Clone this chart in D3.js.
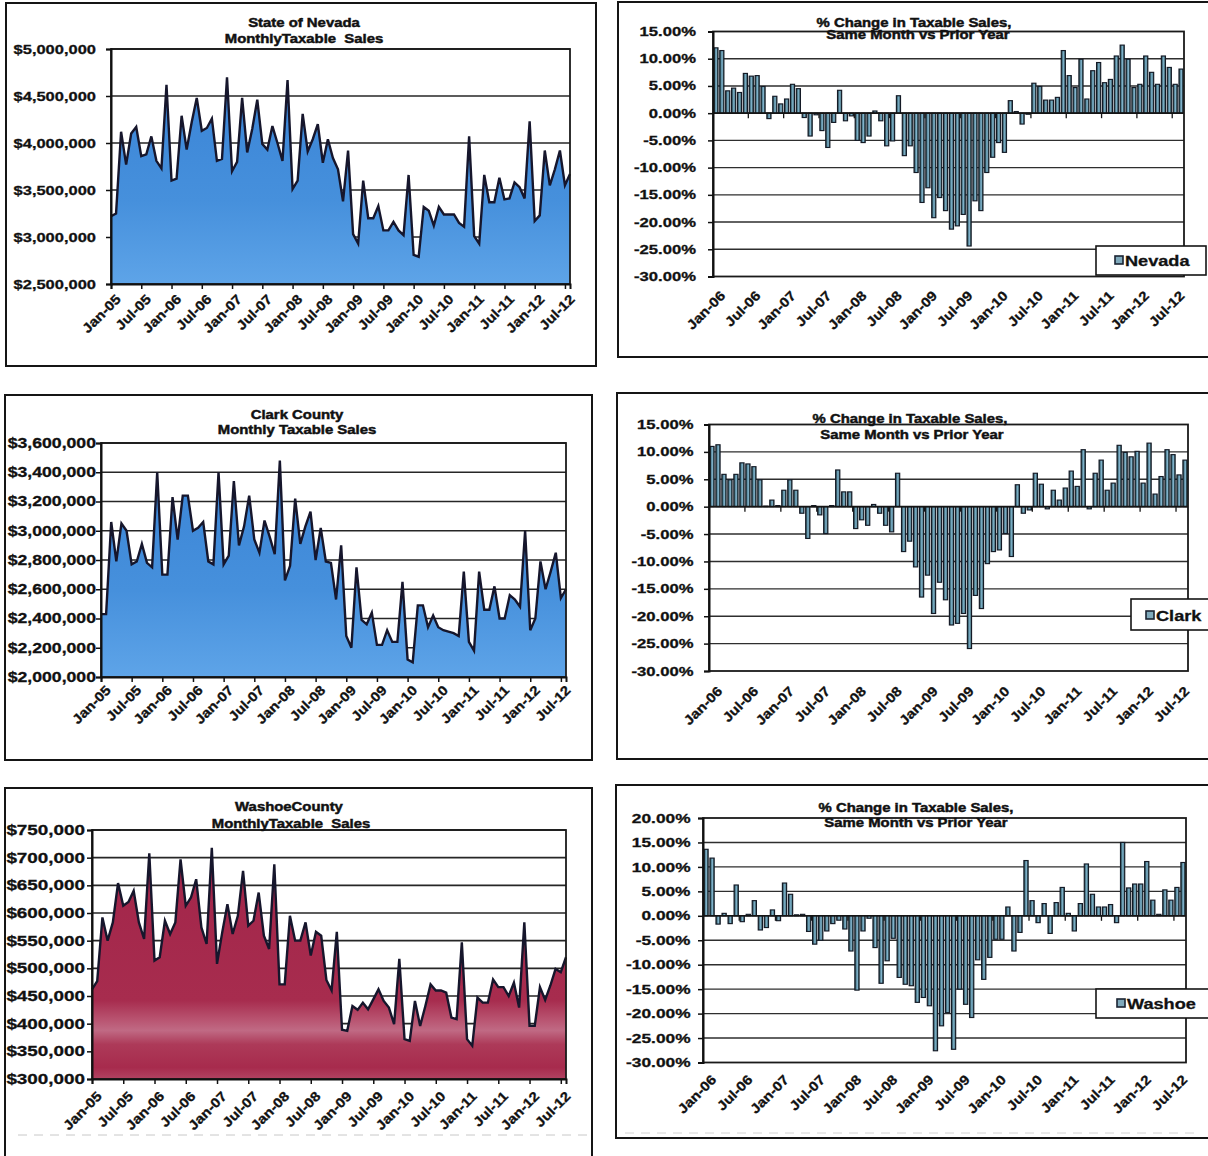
<!DOCTYPE html>
<html><head><meta charset="utf-8">
<script src="https://cdn.jsdelivr.net/npm/d3@7"></script>
<style>
html,body{margin:0;padding:0;background:#fff;}
svg{display:block;}
text{font-family:"Liberation Sans",Arial,sans-serif;font-weight:bold;fill:#111;stroke:#111;stroke-width:0.3px;}
</style></head><body>
<svg id="c" width="1208" height="1156"></svg>
<script>
// ---------------- DATA ----------------
const areaMonths = d3.timeMonths(new Date(2005,0,1), new Date(2012,8,1)); // Jan-05 .. Aug-12
const barMonths  = d3.timeMonths(new Date(2006,0,1), new Date(2012,8,1)); // Jan-06 .. Aug-12

const areaTickLabels = ["Jan-05","Jul-05","Jan-06","Jul-06","Jan-07","Jul-07","Jan-08","Jul-08",
  "Jan-09","Jul-09","Jan-10","Jul-10","Jan-11","Jul-11","Jan-12","Jul-12"];
const barTickLabels = ["Jan-06","Jul-06","Jan-07","Jul-07","Jan-08","Jul-08","Jan-09","Jul-09",
  "Jan-10","Jul-10","Jan-11","Jul-11","Jan-12","Jul-12"];

const nevadaSales = [3220000,3250000,4120000,3770000,4100000,4170000,3860000,3880000,4070000,3810000,3730000,4620000,
3600000,3620000,4290000,3930000,4220000,4480000,4130000,4160000,4260000,3810000,3830000,4700000,
3700000,3800000,4480000,3900000,4150000,4460000,3990000,3930000,4180000,4000000,3810000,4670000,
3510000,3600000,4310000,3910000,4040000,4200000,3790000,4040000,3840000,3720000,3380000,3920000,
3030000,2930000,3600000,3200000,3200000,3330000,3070000,3070000,3160000,3070000,3020000,3660000,
2810000,2790000,3320000,3280000,3120000,3320000,3240000,3240000,3240000,3150000,3110000,4070000,
3010000,2930000,3660000,3370000,3370000,3630000,3400000,3410000,3580000,3530000,3410000,4230000,
3170000,3230000,3920000,3550000,3720000,3920000,3550000,3670000];

const clarkSales = [2430000,2430000,3060000,2790000,3050000,3000000,2770000,2790000,2910000,2780000,2750000,3400000,
2700000,2700000,3230000,2940000,3240000,3240000,3000000,3020000,3060000,2790000,2770000,3400000,
2770000,2830000,3340000,2900000,3030000,3240000,2940000,2850000,3070000,2960000,2840000,3480000,
2660000,2760000,3220000,2910000,3030000,3130000,2800000,3020000,2790000,2780000,2530000,2900000,
2280000,2200000,2750000,2390000,2360000,2440000,2220000,2220000,2320000,2240000,2240000,2650000,
2120000,2100000,2490000,2490000,2340000,2420000,2340000,2320000,2310000,2300000,2280000,2720000,
2240000,2180000,2720000,2460000,2460000,2620000,2400000,2400000,2560000,2530000,2480000,3000000,
2320000,2400000,2790000,2600000,2720000,2850000,2540000,2600000];

const washoeSales = [462000,477000,592000,550000,583000,654000,613000,620000,640000,583000,553000,708000,
514000,520000,586000,562000,583000,697000,613000,628000,661000,574000,544000,718000,
508000,565000,616000,562000,595000,676000,577000,586000,637000,559000,535000,688000,
471000,471000,595000,550000,550000,583000,523000,566000,559000,479000,460000,566000,
389000,387000,432000,425000,438000,426000,444000,462000,441000,429000,399000,517000,
372000,369000,441000,396000,432000,471000,460000,460000,456000,411000,408000,547000,
372000,360000,447000,438000,438000,480000,466000,466000,450000,474000,429000,583000,
396000,396000,466000,443000,469000,499000,493000,520000];

const nevadaChange = [12.0,11.5,4.1,4.6,3.8,7.3,6.8,6.9,4.9,-1.0,3.1,1.7,2.6,5.3,4.5,
-0.8,-4.2,-0.3,-3.2,-6.3,-1.7,4.2,
-1.4,-0.5,-5.0,-5.4,-4.2,0.4,-1.4,-6.0,-5.1,3.2,
-7.8,-6.0,-10.9,-16.4,-13.7,-19.2,-15.5,-17.9,-21.3,-20.7,-18.6,-24.4,
-16.1,-17.9,-10.9,-8.1,-5.4,-7.2,2.3,0.3,-2.0,-0.2,
5.5,4.9,2.4,2.4,2.9,11.5,6.9,4.7,9.9,2.6,7.8,9.3,5.6,6.2,10.5,12.5,9.9,4.7,5.3,10.5,7.5,5.3,10.5,8.4,5.3,8.1];

const clarkChange = [11.0,11.3,5.9,4.9,5.9,8.0,7.8,7.3,4.9,0.1,
1.2,0.2,3.0,4.9,3.0,-1.2,-5.8,0.2,-1.5,-4.9,
0.2,6.7,2.7,2.7,-4.0,-2.4,-3.4,0.4,-1.2,-3.4,
-4.6,6.1,-8.2,-6.3,-11.0,-16.5,-12.5,-19.5,-13.8,-17.0,
-21.6,-21.3,-19.5,-25.9,-16.2,-18.6,-10.4,-8.2,-7.9,-4.9,
-9.1,4.0,-1.2,-0.6,6.1,4.1,-0.4,3.0,1.2,3.4,
6.5,3.7,10.4,-0.4,6.1,8.5,3.0,4.3,11.2,9.9,
9.1,10.1,4.3,11.6,2.3,5.5,10.4,9.5,5.8,8.5];

const washoeChange = [13.6,11.8,-1.7,0.5,-1.6,6.3,-1.2,0.3,3.1,-2.9,-2.4,1.2,-1.0,6.7,4.4,0.2,0.3,-3.2,-5.8,-5.0,
-3.1,-1.6,-0.9,-2.7,-7.2,-15.2,-3.1,-0.5,-6.5,-13.8,-9.2,-4.6,-12.6,-14.0,-14.3,-17.7,-16.7,-18.4,-27.6,-22.5,
-19.8,-27.3,-15.0,-18.1,-20.8,-9.0,-13.0,-8.5,-4.8,-4.8,1.8,-7.2,-3.4,11.3,3.1,-1.4,2.5,-3.6,2.7,5.8,
0.5,-3.1,2.5,10.6,4.4,1.8,1.8,2.3,-1.4,15.0,5.7,6.5,6.5,11.1,3.2,0.3,5.3,3.2,5.8,10.9];

// ---------------- LAYOUT ----------------
const fmtMonth = d3.timeFormat("%b-%y");
const svg = d3.select("#c");
const defs = svg.append("defs");

function stretchText(sel, f) {
  sel.each(function () {
    const L = this.getComputedTextLength();
    if (L > 0) d3.select(this).attr("textLength", L * f).attr("lengthAdjust", "spacingAndGlyphs");
  });
}

// gradients
const blue = defs.append("linearGradient").attr("id", "gBlue").attr("x1", 0).attr("y1", 0).attr("x2", 0).attr("y2", 1);
[[0, "#3a84d6"], [0.6, "#4690dc"], [1, "#5ea4e8"]].forEach(s => blue.append("stop").attr("offset", s[0]).attr("stop-color", s[1]));
const red = defs.append("linearGradient").attr("id", "gRed").attr("x1", 0).attr("y1", 0).attr("x2", 0).attr("y2", 1);
[[0, "#a2254a"], [0.66, "#a72c4e"], [0.74, "#b8526f"], [0.79, "#c06a84"], [0.85, "#ad3a59"], [0.95, "#a72b4d"], [1, "#b24362"]]
  .forEach(s => red.append("stop").attr("offset", s[0]).attr("stop-color", s[1]));
const barG = defs.append("linearGradient").attr("id", "gBar").attr("x1", 0).attr("y1", 0).attr("x2", 1).attr("y2", 0);
[[0, "#1a3b3a"], [0.45, "#6c9fb8"], [0.6, "#82b3cc"], [1, "#214846"]].forEach(s => barG.append("stop").attr("offset", s[0]).attr("stop-color", s[1]));

function frame(g, f) {
  g.append("rect").attr("x", f[0]).attr("y", f[1]).attr("width", f[2] - f[0]).attr("height", f[3] - f[1])
    .attr("fill", "none").attr("stroke", "#151515").attr("stroke-width", 2);
}
function title(g, cfg) {
  cfg.title.forEach((s, k) => {
    g.append("text").attr("x", cfg.titleX[k]).attr("y", cfg.titleY[k]).attr("text-anchor", "middle")
      .attr("font-size", 12).style("white-space", "pre").style("stroke-width", "0.45px").text(s).call(stretchText, 1.24);
  });
}

function drawArea(cfg, values) {
  const g = svg.append("g");
  frame(g, cfg.frame);
  const { l, r, t, b } = cfg.plot;
  const x = d3.scalePoint().domain(d3.range(values.length)).range([l, r]);
  const y = d3.scaleLinear().domain(cfg.yDomain).range([b, t]);
  const ticks = d3.range(cfg.yDomain[0], cfg.yDomain[1] + cfg.yStep / 2, cfg.yStep);
  g.append("rect").attr("x", l).attr("y", t).attr("width", r - l).attr("height", b - t).attr("fill", "#fff");
  g.append("g").selectAll("line").data(ticks.slice(1)).join("line")
    .attr("x1", l).attr("x2", r).attr("y1", d => y(d)).attr("y2", d => y(d))
    .attr("stroke", "#262626").attr("stroke-width", 1.7);
  g.append("path").datum(values).attr("fill", cfg.fill)
    .attr("d", d3.area().x((d, i) => x(i)).y0(b).y1(d => y(d)));
  g.append("path").datum(values).attr("fill", "none").attr("stroke", "#16162c").attr("stroke-width", 2.4)
    .attr("d", d3.line().x((d, i) => x(i)).y(d => y(d)));
  g.append("rect").attr("x", l).attr("y", t).attr("width", r - l).attr("height", b - t)
    .attr("fill", "none").attr("stroke", "#1a1a1a").attr("stroke-width", 1.8);
  const ya = g.append("g").attr("transform", `translate(${l},0)`)
    .call(d3.axisLeft(y).tickValues(ticks).tickFormat(d3.format("$,")).tickSize(5).tickPadding(cfg.labelGap));
  ya.select(".domain").attr("stroke", "#111").attr("stroke-width", 2);
  ya.selectAll(".tick line").attr("stroke", "#111").attr("stroke-width", 1.5);
  ya.selectAll("text").attr("font-size", cfg.yFont).attr("font-family", null).attr("fill", "#111")
    .call(stretchText, cfg.yStretch);
  const tickIdx = areaTickLabels.map(lb => areaMonths.findIndex(m => fmtMonth(m) === lb));
  const xa = g.append("g").attr("transform", `translate(0,${b})`)
    .call(d3.axisBottom(x).tickValues(tickIdx).tickFormat((d, k) => areaTickLabels[k]).tickSize(5));
  xa.select(".domain").attr("stroke", "#111").attr("stroke-width", 2);
  xa.selectAll(".tick line").attr("stroke", "#111").attr("stroke-width", 1.5);
  xa.selectAll("text").attr("font-size", 13.5).attr("font-family", null).attr("fill", "#111")
    .attr("x", 0).attr("y", 0).attr("dy", "0.75em").attr("text-anchor", "end")
    .attr("transform", `translate(${cfg.xLab[0]},${cfg.xLab[1]}) rotate(-45)`)
    .call(stretchText, 1.12);
  title(g, cfg);
}

function drawBars(cfg, values) {
  const g = svg.append("g");
  frame(g, cfg.frame);
  const { l, r, t, b } = cfg.plot;
  const x = d3.scaleBand().domain(d3.range(values.length)).range([l, r]).paddingInner(0.3).paddingOuter(0.15);
  const y = d3.scaleLinear().domain(cfg.yDomain).range([b, t]);
  const ticks = d3.range(cfg.yDomain[0], cfg.yDomain[1] + cfg.yStep / 2, cfg.yStep);
  g.append("rect").attr("x", l).attr("y", t).attr("width", r - l).attr("height", b - t).attr("fill", "#fff");
  g.append("g").selectAll("line").data(ticks.slice(1, -1)).join("line")
    .attr("x1", l).attr("x2", r).attr("y1", d => y(d)).attr("y2", d => y(d))
    .attr("stroke", "#2e2e2e").attr("stroke-width", 1.4);
  g.append("g").selectAll("rect").data(values).join("rect")
    .attr("x", (d, i) => x(i)).attr("width", x.bandwidth())
    .attr("y", d => y(Math.max(0, d))).attr("height", d => Math.abs(y(d) - y(0)))
    .attr("fill", "url(#gBar)").attr("stroke", "#141a26").attr("stroke-width", 1.15);
  g.append("line").attr("x1", l).attr("x2", r).attr("y1", y(0)).attr("y2", y(0))
    .attr("stroke", "#151515").attr("stroke-width", 1.6);
  const step = x.step(), off = x(0) - (step - x.bandwidth()) / 2;
  g.append("g").selectAll("line").data(d3.range(6, values.length, 6)).join("line")
    .attr("x1", d => off + d * step).attr("x2", d => off + d * step)
    .attr("y1", y(0)).attr("y2", y(0) + 5).attr("stroke", "#151515").attr("stroke-width", 1.3);
  g.append("rect").attr("x", l).attr("y", t).attr("width", r - l).attr("height", b - t)
    .attr("fill", "none").attr("stroke", "#1a1a1a").attr("stroke-width", 1.8);
  const ya = g.append("g").attr("transform", `translate(${l},0)`)
    .call(d3.axisLeft(y).tickValues(ticks).tickFormat(v => v.toFixed(2) + "%").tickSize(5).tickPadding(cfg.labelGap));
  ya.select(".domain").attr("stroke", "#111").attr("stroke-width", 2);
  ya.selectAll(".tick line").attr("stroke", "#111").attr("stroke-width", 1.5);
  ya.selectAll("text").attr("font-size", cfg.yFont).attr("font-family", null).attr("fill", "#111")
    .call(stretchText, cfg.yStretch);
  const tickIdx = barTickLabels.map(lb => barMonths.findIndex(m => fmtMonth(m) === lb));
  const xa = g.append("g").attr("transform", `translate(0,${b})`)
    .call(d3.axisBottom(x).tickValues(tickIdx).tickFormat((d, k) => barTickLabels[k]).tickSize(0));
  xa.select(".domain").remove();
  xa.selectAll("text").attr("font-size", 13.5).attr("font-family", null).attr("fill", "#111")
    .attr("x", 0).attr("y", 0).attr("dy", "0.75em").attr("text-anchor", "end")
    .attr("transform", `translate(${cfg.xLab[0]},${cfg.xLab[1]}) rotate(-45)`)
    .call(stretchText, 1.12);
  title(g, cfg);
  const lg = cfg.legend;
  g.append("rect").attr("x", lg.box[0]).attr("y", lg.box[1]).attr("width", lg.box[2]).attr("height", lg.box[3])
    .attr("fill", "#fff").attr("stroke", "#151515").attr("stroke-width", 1.6);
  g.append("rect").attr("x", lg.mark[0]).attr("y", lg.mark[1]).attr("width", 8).attr("height", 8)
    .attr("fill", "#7fa9bb").attr("stroke", "#1b2432").attr("stroke-width", 1.6);
  g.append("text").attr("x", lg.mark[0] + 10).attr("y", lg.mark[1] + 9.5).attr("font-size", 14.5)
    .text(cfg.series).call(stretchText, 1.25);
}

drawArea({
  frame: [6, 3, 596, 366], plot: { l: 111, r: 570, t: 49, b: 284 },
  yDomain: [2500000, 5000000], yStep: 500000, fill: "url(#gBlue)",
  yFont: 13.5, yStretch: 1.22, labelGap: 10, xLab: [3, 9],
  title: ["State of Nevada", "MonthlyTaxable  Sales"], titleX: [304, 304], titleY: [27, 43]
}, nevadaSales);

drawArea({
  frame: [5, 395, 592, 760], plot: { l: 101, r: 566, t: 443, b: 677 },
  yDomain: [2000000, 3600000], yStep: 200000, fill: "url(#gBlue)",
  yFont: 14, yStretch: 1.26, labelGap: 0, xLab: [3, 7],
  title: ["Clark County", "Monthly Taxable Sales"], titleX: [297, 297], titleY: [419, 434]
}, clarkSales);

drawArea({
  frame: [5, 788, 592, 1175], plot: { l: 92, r: 566, t: 830, b: 1079 },
  yDomain: [300000, 750000], yStep: 50000, fill: "url(#gRed)",
  yFont: 14.5, yStretch: 1.3, labelGap: 2, xLab: [3, 11],
  title: ["WashoeCounty", "MonthlyTaxable  Sales"], titleX: [289, 291], titleY: [811, 828]
}, washoeSales);

drawBars({
  frame: [618, 2, 1220, 357], plot: { l: 713, r: 1184, t: 31.5, b: 276.5 },
  yDomain: [-30, 15], yStep: 5, yFont: 12.5, yStretch: 1.33, labelGap: 12, xLab: [3, 13],
  title: ["% Change in Taxable Sales,", "Same Month vs Prior Year"], titleX: [914, 918], titleY: [26.5, 38.5],
  series: "Nevada", legend: { box: [1096, 246, 110, 29], mark: [1115, 256] }
}, nevadaChange);

drawBars({
  frame: [617, 393, 1220, 759], plot: { l: 709, r: 1188, t: 424.5, b: 671 },
  yDomain: [-30, 15], yStep: 5, yFont: 12.5, yStretch: 1.33, labelGap: 10.5, xLab: [4, 14],
  title: ["% Change in Taxable Sales,", "Same Month vs Prior Year"], titleX: [910, 912], titleY: [423, 439],
  series: "Clark", legend: { box: [1131, 599, 80, 31], mark: [1146, 611] }
}, clarkChange);

drawBars({
  frame: [616, 785, 1220, 1138], plot: { l: 703, r: 1186, t: 818, b: 1062.5 },
  yDomain: [-30, 20], yStep: 5, yFont: 13, yStretch: 1.33, labelGap: 7.5, xLab: [4, 11],
  title: ["% Change in Taxable Sales,", "Same Month vs Prior Year"], titleX: [916, 916], titleY: [812, 826.5],
  series: "Washoe", legend: { box: [1096, 989, 114, 29], mark: [1117, 999] }
}, washoeChange);

// faint scan dashes near the bottom
svg.append("line").attr("x1", 18).attr("x2", 588).attr("y1", 1135).attr("y2", 1135)
  .attr("stroke", "#c8c8c8").attr("stroke-width", 1).attr("stroke-dasharray", "9,7");
svg.append("line").attr("x1", 625).attr("x2", 1200).attr("y1", 1133).attr("y2", 1133)
  .attr("stroke", "#d4d4d4").attr("stroke-width", 1).attr("stroke-dasharray", "9,7");
</script>
</body></html>
